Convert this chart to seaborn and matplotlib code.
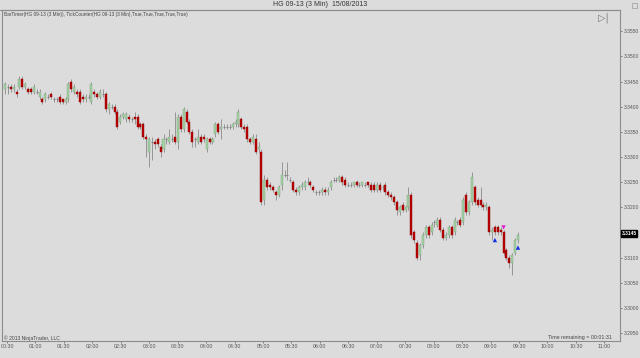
import numpy as np
import pandas as pd
import seaborn as sns
import matplotlib
matplotlib.use("Agg")
import matplotlib.pyplot as plt

# ---------------- data (HG 09-13, 3-minute bars, 15/08/2013) ----------------
opens = [3.3435,3.3440,3.3440,3.3435,3.3430,3.3440,3.3455,3.3440,3.3435,3.3435,
         3.3430,3.3430,3.3420,3.3415,3.3415,3.3420,3.3425,3.3415,3.3415,3.3420,
         3.3415,3.3410,3.3415,3.3450,3.3430,3.3430,3.3430,3.3420,3.3415,3.3420,
         3.3410,3.3430,3.3425,3.3420,3.3425,3.3425,3.3395,3.3400,3.3400,3.3390,
         3.3370,3.3380,3.3375,3.3380,3.3375,3.3380,3.3380,3.3365,3.3365,3.3340,
         3.3310,3.3330,3.3330,3.3335,3.3320,3.3315,3.3335,3.3330,3.3335,3.3340,
         3.3330,3.3380,3.3355,3.3390,3.3370,3.3350,3.3335,3.3330,3.3340,3.3340,
         3.3315,3.3335,3.3330,3.3345,3.3365,3.3355,3.3360,3.3360,3.3360,3.3360,
         3.3365,3.3365,3.3375,3.3360,3.3360,3.3335,3.3330,3.3335,3.3315,3.3310,
         3.3215,3.3255,3.3245,3.3240,3.3230,3.3225,3.3245,3.3265,3.3265,3.3255,
         3.3250,3.3235,3.3230,3.3240,3.3240,3.3250,3.3250,3.3240,3.3230,3.3230,
         3.3230,3.3235,3.3230,3.3240,3.3255,3.3255,3.3255,3.3260,3.3255,3.3245,
         3.3245,3.3245,3.3250,3.3245,3.3245,3.3245,3.3250,3.3245,3.3245,3.3235,
         3.3245,3.3240,3.3245,3.3230,3.3225,3.3220,3.3210,3.3190,3.3205,3.3195,
         3.3200,3.3225,3.3150,3.3130,3.3105,3.3125,3.3145,3.3160,3.3150,3.3170,
         3.3165,3.3175,3.3155,3.3140,3.3145,3.3160,3.3150,3.3170,3.3175,3.3170,
         3.3225,3.3190,3.3210,3.3240,3.3215,3.3215,3.3205,3.3200,3.3200,3.3150,
         3.3160,3.3160,3.3155,3.3150,3.3115,3.3100,3.3090,3.3110,3.3135]
highs = [3.3450,3.3445,3.3445,3.3445,3.3435,3.3460,3.3460,3.3450,3.3440,3.3440,
         3.3445,3.3435,3.3435,3.3420,3.3430,3.3425,3.3430,3.3420,3.3420,3.3425,
         3.3415,3.3420,3.3450,3.3455,3.3445,3.3435,3.3435,3.3425,3.3425,3.3425,
         3.3450,3.3435,3.3430,3.3435,3.3435,3.3430,3.3410,3.3405,3.3405,3.3395,
         3.3385,3.3390,3.3390,3.3385,3.3380,3.3390,3.3385,3.3370,3.3370,3.3345,
         3.3340,3.3340,3.3335,3.3340,3.3325,3.3345,3.3340,3.3355,3.3345,3.3390,
         3.3385,3.3385,3.3400,3.3395,3.3375,3.3355,3.3340,3.3355,3.3345,3.3345,
         3.3340,3.3340,3.3340,3.3370,3.3370,3.3375,3.3365,3.3365,3.3365,3.3370,
         3.3375,3.3395,3.3380,3.3365,3.3365,3.3340,3.3345,3.3345,3.3330,3.3315,
         3.3265,3.3260,3.3250,3.3245,3.3235,3.3245,3.3290,3.3275,3.3290,3.3260,
         3.3255,3.3240,3.3245,3.3250,3.3255,3.3260,3.3255,3.3245,3.3235,3.3235,
         3.3240,3.3240,3.3240,3.3255,3.3260,3.3260,3.3265,3.3265,3.3260,3.3250,
         3.3250,3.3250,3.3255,3.3250,3.3250,3.3250,3.3250,3.3250,3.3250,3.3250,
         3.3250,3.3245,3.3250,3.3235,3.3230,3.3225,3.3215,3.3205,3.3210,3.3205,
         3.3240,3.3230,3.3155,3.3135,3.3130,3.3150,3.3165,3.3165,3.3170,3.3175,
         3.3180,3.3180,3.3160,3.3150,3.3165,3.3165,3.3180,3.3175,3.3180,3.3220,
         3.3230,3.3215,3.3270,3.3245,3.3220,3.3240,3.3210,3.3210,3.3205,3.3160,
         3.3165,3.3165,3.3160,3.3155,3.3120,3.3105,3.3110,3.3140,3.3150]
lows = [3.3425,3.3425,3.3430,3.3430,3.3420,3.3435,3.3435,3.3435,3.3425,3.3425,
        3.3425,3.3425,3.3415,3.3405,3.3410,3.3415,3.3415,3.3410,3.3410,3.3405,
        3.3405,3.3405,3.3410,3.3430,3.3425,3.3420,3.3405,3.3410,3.3410,3.3415,
        3.3405,3.3420,3.3415,3.3415,3.3420,3.3390,3.3385,3.3395,3.3385,3.3355,
        3.3365,3.3375,3.3370,3.3370,3.3370,3.3365,3.3355,3.3355,3.3335,3.3300,
        3.3280,3.3295,3.3315,3.3320,3.3300,3.3310,3.3325,3.3325,3.3330,3.3325,
        3.3315,3.3350,3.3350,3.3365,3.3345,3.3320,3.3320,3.3325,3.3325,3.3330,
        3.3310,3.3325,3.3325,3.3340,3.3345,3.3335,3.3355,3.3355,3.3355,3.3355,
        3.3360,3.3360,3.3355,3.3350,3.3330,3.3325,3.3325,3.3305,3.3310,3.3205,
        3.3205,3.3235,3.3235,3.3230,3.3215,3.3220,3.3235,3.3260,3.3255,3.3250,
        3.3230,3.3225,3.3225,3.3235,3.3235,3.3245,3.3240,3.3230,3.3225,3.3225,
        3.3225,3.3225,3.3225,3.3235,3.3250,3.3250,3.3250,3.3245,3.3240,3.3240,
        3.3240,3.3240,3.3240,3.3240,3.3240,3.3240,3.3240,3.3230,3.3230,3.3230,
        3.3230,3.3235,3.3225,3.3220,3.3215,3.3205,3.3185,3.3185,3.3190,3.3190,
        3.3195,3.3140,3.3130,3.3095,3.3095,3.3120,3.3140,3.3140,3.3145,3.3160,
        3.3160,3.3150,3.3135,3.3135,3.3140,3.3140,3.3145,3.3165,3.3160,3.3165,
        3.3185,3.3185,3.3205,3.3205,3.3200,3.3200,3.3195,3.3195,3.3145,3.3135,
        3.3145,3.3145,3.3145,3.3105,3.3095,3.3080,3.3065,3.3105,3.3130]
closes = [3.3445,3.3440,3.3435,3.3440,3.3425,3.3455,3.3440,3.3445,3.3430,3.3430,
          3.3440,3.3430,3.3430,3.3410,3.3425,3.3420,3.3420,3.3415,3.3415,3.3410,
          3.3410,3.3415,3.3445,3.3435,3.3440,3.3425,3.3410,3.3415,3.3420,3.3420,
          3.3445,3.3425,3.3420,3.3430,3.3425,3.3395,3.3405,3.3400,3.3390,3.3360,
          3.3380,3.3385,3.3385,3.3375,3.3375,3.3375,3.3360,3.3360,3.3340,3.3335,
          3.3335,3.3330,3.3325,3.3325,3.3310,3.3335,3.3335,3.3340,3.3335,3.3330,
          3.3380,3.3355,3.3395,3.3370,3.3350,3.3330,3.3335,3.3340,3.3330,3.3335,
          3.3335,3.3330,3.3335,3.3365,3.3350,3.3360,3.3360,3.3360,3.3360,3.3365,
          3.3370,3.3390,3.3360,3.3355,3.3335,3.3330,3.3340,3.3310,3.3320,3.3210,
          3.3255,3.3240,3.3240,3.3235,3.3225,3.3240,3.3265,3.3265,3.3265,3.3255,
          3.3235,3.3230,3.3240,3.3245,3.3250,3.3250,3.3245,3.3235,3.3230,3.3230,
          3.3235,3.3230,3.3235,3.3250,3.3255,3.3255,3.3260,3.3250,3.3245,3.3245,
          3.3245,3.3250,3.3245,3.3245,3.3250,3.3245,3.3245,3.3235,3.3235,3.3245,
          3.3235,3.3240,3.3230,3.3225,3.3220,3.3210,3.3195,3.3200,3.3195,3.3200,
          3.3225,3.3145,3.3135,3.3100,3.3125,3.3145,3.3160,3.3145,3.3165,3.3170,
          3.3175,3.3155,3.3140,3.3145,3.3160,3.3145,3.3175,3.3170,3.3165,3.3215,
          3.3190,3.3210,3.3260,3.3210,3.3205,3.3205,3.3200,3.3205,3.3150,3.3155,
          3.3150,3.3150,3.3150,3.3110,3.3100,3.3090,3.3105,3.3135,3.3145]

time_labels = ["00:30","01:00","01:30","02:00","02:30","03:00","03:30","04:00",
               "04:30","05:00","05:30","06:00","06:30","07:00","07:30","08:00",
               "08:30","09:00","09:30","10:00","10:30","11:00"]
price_ticks = [3.2950,3.3000,3.3050,3.3100,3.3200,3.3250,3.3300,
               3.3350,3.3400,3.3450,3.3500,3.3550]
last_price = "3.3145"

# trade markers (bar index, price)
buy_bars = [170, 178]
buy_prices = [3.3135, 3.3120]
sell_bars = [173]
sell_prices = [3.3160]

n = min(len(opens), len(highs), len(lows), len(closes))
df = pd.DataFrame({"bar": np.arange(n), "open": opens[:n], "high": highs[:n],
                   "low": lows[:n], "close": closes[:n]})

# ---------------- figure ----------------
sns.set_theme(style="white")
plt.rcParams["font.family"] = ["Liberation Sans", "DejaVu Sans"]
BG = "#dcdcdc"
W, H = 640, 358
fig = plt.figure(figsize=(6.4, 3.58), dpi=100, facecolor=BG)
ax = fig.add_axes([2 / W, (H - 341) / H, (620 - 2) / W, (341 - 10) / H])
ax.set_facecolor(BG)

up = df[df.close > df.open]
dn = df[df.close < df.open]
eq = df[df.close == df.open]

ax.vlines(df.bar, df.low, df.high, color="#8a8a8a", lw=0.6, zorder=1)
bw = 0.7
ax.bar(up.bar, up.close - up.open, bottom=up.open, width=bw,
       color="#a3d3a3", edgecolor="#7f9f7f", linewidth=0.3, zorder=2)
ax.bar(dn.bar, dn.open - dn.close, bottom=dn.close, width=bw,
       color="#b80000", edgecolor="#950000", linewidth=0.3, zorder=2)
ax.hlines(eq.close, eq.bar - bw / 2, eq.bar + bw / 2, color="#7a7a7a",
          lw=0.6, zorder=2)

mk = pd.DataFrame({"bar": buy_bars + sell_bars,
                   "price": buy_prices + sell_prices,
                   "side": ["buy"] * len(buy_bars) + ["sell"] * len(sell_bars)})
sns.scatterplot(data=mk, x="bar", y="price", hue="side", style="side",
                markers={"buy": "^", "sell": "v"},
                palette={"buy": "#1030e0", "sell": "#e020d0"},
                s=10, linewidth=0, legend=False, ax=ax, zorder=3)

# axes
ax.set_xlim(-1.04, 213.4)
ax.set_ylim(3.29344, 3.35921)
tick_pos = [0.7 + 9.87 * k for k in range(len(time_labels))]
ax.set_xticks(tick_pos)
ax.set_xticklabels(time_labels)
ax.yaxis.tick_right()
ax.set_yticks(price_ticks)
ax.set_yticklabels([f"{p:.4f}" for p in price_ticks])
ax.tick_params(axis="both", labelsize=3.6, colors="#555555", length=1.5,
               width=0.5, pad=1.0, direction="out")
ax.tick_params(axis="x", bottom=True, labelcolor="#555555", labelsize=3.8)
ax.tick_params(axis="y", right=True, left=False, labelcolor="#555555")
ax.set_xlabel("")
ax.set_ylabel("")
for side in ["top", "right", "bottom", "left"]:
    ax.spines[side].set_color("#8c8c8c")
    ax.spines[side].set_linewidth(0.8)

# last price box
ax.annotate(last_price, xy=(1.0, 3.3148), xycoords=("axes fraction", "data"),
            xytext=(1.2, 0), textcoords="offset points", ha="left", va="center",
            fontsize=3.5, color="white", fontweight="bold",
            bbox=dict(boxstyle="square,pad=0.12", fc="black", ec="black"))

# texts
fig.text(0.5, 1 - 5 / H, "HG 09-13 (3 Min)  15/08/2013", ha="center",
         va="center", fontsize=5, color="#333333")
fig.text(4 / W, 1 - 14.5 / H,
         "BarTimer(HG 09-13 (3 Min)), TickCounter(HG 09-13 (3 Min),True,True,True,True,True)",
         ha="left", va="center", fontsize=3.4, color="#444444")
fig.text(4 / W, 1 - 338 / H, "\u00a9 2013 NinjaTrader, LLC", ha="left",
         va="center", fontsize=3.6, color="#444444")
fig.text(612 / W, 1 - 337 / H, "Time remaining = 00:01:31", ha="right",
         va="center", fontsize=3.8, color="#444444")
fig.text(603 / W, 1 - 18 / H, "\u25b7|", ha="center", va="center",
         fontsize=7, color="#777777", family=["DejaVu Sans"])
# small close box at top right
fig.patches.append(plt.Rectangle((632 / W, 1 - 8 / H), 5 / W, 5 / H,
                                 transform=fig.transFigure, fill=False,
                                 ec="#999999", lw=0.5))
fig.lines.append(plt.Line2D([0, 620 / W], [1 - 10 / H, 1 - 10 / H],
                            transform=fig.transFigure, color="#8c8c8c", lw=0.8))

fig.savefig("out.png", dpi=100, facecolor=BG)
